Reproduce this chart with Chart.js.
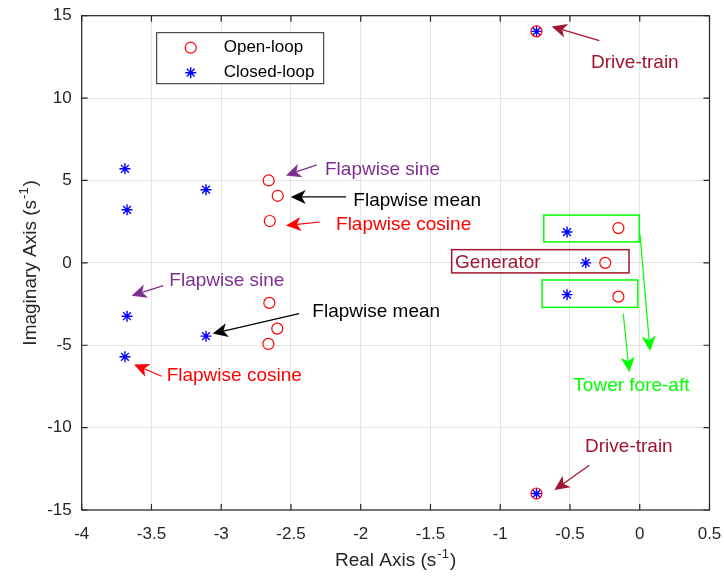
<!DOCTYPE html>
<html>
<head>
<meta charset="utf-8">
<script src="https://cdn.jsdelivr.net/npm/chart.js@4.4.1/dist/chart.umd.min.js"></script>
<style>
  html, body { margin: 0; padding: 0; background: #fff; }
  #wrap { width: 724px; height: 579px; }
</style>
</head>
<body>
<div id="wrap"><canvas id="poleChart"></canvas></div>
<script>
// pole locations
const seriesNames = ["Open-loop", "Closed-loop"];
const openRe   = [-0.74, -0.74, -2.66, -2.595, -2.652, -2.655, -2.598, -2.662, -0.153, -0.247, -0.153];
const openIm   = [14.05, -14.0, 5.0, 4.07, 2.54, -2.43, -3.99, -4.92, 2.11, 0.0, -2.05];
const closedRe = [-0.74, -0.74, -3.69, -3.675, -3.109, -3.675, -3.69, -3.109, -0.521, -0.387, -0.521];
const closedIm = [14.05, -14.0, 5.71, 3.22, 4.44, -3.24, -5.70, -4.45, 1.87, 0.0, -1.93];
const xTicks = [-4, -3.5, -3, -2.5, -2, -1.5, -1, -0.5, 0, 0.5];
const yTicks = [-15, -10, -5, 0, 5, 10, 15];

const DR = "#A2142F", PU = "#7E2F8E", GR = "#00ff00";
const FONT = "'Liberation Sans', Arial, sans-serif";

// annotations in data units
const arrows = [
  { from: [-0.29, 13.49], to: [-0.631, 14.34], color: DR },
  { from: [-0.361, -12.29], to: [-0.612, -13.79], color: DR },
  { from: [-2.315, 5.95], to: [-2.536, 5.30], color: PU },
  { from: [-2.105, 4.0], to: [-2.502, 4.0], color: "#000" },
  { from: [-2.292, 2.48], to: [-2.536, 2.27], color: "#ff0000" },
  { from: [-3.415, -1.38], to: [-3.642, -1.99], color: PU },
  { from: [-2.442, -3.08], to: [-3.061, -4.29], color: "#000" },
  { from: [-3.427, -6.88], to: [-3.625, -6.17], color: "#ff0000" },
  { from: [0.002, 1.71], to: [0.074, -5.36], color: GR },
  { from: [-0.118, -3.10], to: [-0.075, -6.64], color: GR }
];
const labels = [
  { text: "Drive-train", at: [-0.349, 12.13], color: DR },
  { text: "Drive-train", at: [-0.392, -11.18], color: DR },
  { text: "Flapwise sine", at: [-2.256, 5.65], color: PU },
  { text: "Flapwise mean", at: [-2.053, 3.77], color: "#000" },
  { text: "Flapwise cosine", at: [-2.177, 2.32], color: "#ff0000" },
  { text: "Flapwise sine", at: [-3.372, -1.06], color: PU },
  { text: "Flapwise mean", at: [-2.347, -2.94], color: "#000" },
  { text: "Flapwise cosine", at: [-3.391, -6.88], color: "#ff0000" },
  { text: "Generator", at: [-1.324, 0.01], color: DR },
  { text: "Tower fore-aft", at: [-0.476, -7.44], color: GR }
];
const boxes = [
  { x: [-1.348, -0.077], y: [0.8, -0.61], color: DR },
  { x: [-0.688, -0.003], y: [2.90, 1.27], color: GR },
  { x: [-0.70, -0.014], y: [-1.04, -2.70], color: GR }
];

function drawArrow(ctx, x1, y1, x2, y2, color) {
  const a = Math.atan2(y2 - y1, x2 - x1);
  const L = 15, W = 7, N = 4;
  ctx.strokeStyle = color; ctx.fillStyle = color; ctx.lineWidth = 1.2;
  ctx.beginPath();
  ctx.moveTo(x1, y1);
  ctx.lineTo(x2 - (L - N) * Math.cos(a), y2 - (L - N) * Math.sin(a));
  ctx.stroke();
  ctx.save();
  ctx.translate(x2, y2); ctx.rotate(a);
  ctx.beginPath();
  ctx.moveTo(0, 0); ctx.lineTo(-L, -W); ctx.lineTo(-L + N, 0); ctx.lineTo(-L, W);
  ctx.closePath(); ctx.fill();
  ctx.restore();
}

// axis title with a superscript "-1", centred on (0,0) of the current transform
function drawUnitTitle(ctx, main, sup) {
  ctx.font = "19px " + FONT;
  const w1 = ctx.measureText(main).width;
  const w3 = ctx.measureText(")").width;
  ctx.font = "13px " + FONT;
  const w2 = ctx.measureText(sup).width;
  let x = -(w1 + w2 + w3 + 2) / 2;
  ctx.textAlign = "left"; ctx.textBaseline = "alphabetic";
  ctx.fillStyle = "#262626";
  ctx.font = "19px " + FONT;
  ctx.fillText(main, x, 7);
  ctx.font = "13px " + FONT;
  ctx.fillText(sup, x + w1 + 1, -1);
  ctx.font = "19px " + FONT;
  ctx.fillText(")", x + w1 + w2 + 2, 7);
}

const overlay = {
  id: "overlay",
  afterDraw(chart) {
    const ctx = chart.ctx, xs = chart.scales.x, ys = chart.scales.y;
    const a = chart.chartArea;
    ctx.save();
    // axes box with inward ticks
    ctx.strokeStyle = "#262626"; ctx.lineWidth = 1.2;
    ctx.strokeRect(a.left, a.top, a.right - a.left, a.bottom - a.top);
    ctx.beginPath();
    xTicks.forEach(v => {
      const px = xs.getPixelForValue(v);
      ctx.moveTo(px, a.bottom); ctx.lineTo(px, a.bottom - 6);
      ctx.moveTo(px, a.top); ctx.lineTo(px, a.top + 6);
    });
    yTicks.forEach(v => {
      const py = ys.getPixelForValue(v);
      ctx.moveTo(a.left, py); ctx.lineTo(a.left + 6, py);
      ctx.moveTo(a.right, py); ctx.lineTo(a.right - 6, py);
    });
    ctx.stroke();

    // axis titles
    ctx.save();
    ctx.translate((a.left + a.right) / 2, 559);
    drawUnitTitle(ctx, "Real Axis (s", "-1");
    ctx.restore();
    ctx.save();
    ctx.translate(29, (a.top + a.bottom) / 2);
    ctx.rotate(-Math.PI / 2);
    drawUnitTitle(ctx, "Imaginary Axis (s", "-1");
    ctx.restore();

    // annotations
    boxes.forEach(b => {
      const x0 = xs.getPixelForValue(b.x[0]), x1 = xs.getPixelForValue(b.x[1]);
      const y0 = ys.getPixelForValue(b.y[0]), y1 = ys.getPixelForValue(b.y[1]);
      ctx.strokeStyle = b.color; ctx.lineWidth = 1.5;
      ctx.strokeRect(x0, y0, x1 - x0, y1 - y0);
    });
    arrows.forEach(r => drawArrow(ctx,
      xs.getPixelForValue(r.from[0]), ys.getPixelForValue(r.from[1]),
      xs.getPixelForValue(r.to[0]), ys.getPixelForValue(r.to[1]), r.color));
    ctx.font = "19px " + FONT;
    ctx.textAlign = "left"; ctx.textBaseline = "middle";
    labels.forEach(t => {
      ctx.fillStyle = t.color;
      ctx.fillText(t.text, xs.getPixelForValue(t.at[0]), ys.getPixelForValue(t.at[1]));
    });

    // legend
    const lx = a.left + 75, ly = a.top + 17, lw = 167, lh = 51;
    ctx.fillStyle = "#fff"; ctx.fillRect(lx, ly, lw, lh);
    ctx.strokeStyle = "#262626"; ctx.lineWidth = 1;
    ctx.strokeRect(lx, ly, lw, lh);
    ctx.font = "17px " + FONT;
    chart.data.datasets.forEach((ds, i) => {
      const cy = ly + 15 + i * 25;
      ctx.strokeStyle = ds.borderColor;
      ctx.fillStyle = ds.backgroundColor;
      ctx.lineWidth = ds.borderWidth;
      Chart.helpers.drawPoint(ctx, {
        pointStyle: ds.pointStyle, radius: ds.pointRadius, rotation: 0,
        borderWidth: ds.borderWidth
      }, lx + 34, cy);
      ctx.fillStyle = "#000";
      ctx.fillText(ds.label, lx + 67, cy);
    });
    ctx.restore();
  }
};

const ctx = document.getElementById("poleChart").getContext("2d");
new Chart(ctx, {
  type: "scatter",
  data: {
    datasets: [
      {
        label: seriesNames[0],
        data: openRe.map((x, i) => ({ x: x, y: openIm[i] })),
        pointStyle: "circle", pointRadius: 5.5, pointHoverRadius: 5.5,
        borderColor: "#ff0000", backgroundColor: "rgba(0,0,0,0)", borderWidth: 1.2
      },
      {
        label: seriesNames[1],
        data: closedRe.map((x, i) => ({ x: x, y: closedIm[i] })),
        pointStyle: "star", pointRadius: 5.5, pointHoverRadius: 5.5,
        borderColor: "#0000ff", backgroundColor: "#0000ff", borderWidth: 1.4
      }
    ]
  },
  options: {
    responsive: true,
    maintainAspectRatio: false,
    animation: false,
    layout: { padding: { left: 0, right: 14.5, top: 15.7, bottom: 0 } },
    plugins: { legend: { display: false }, tooltip: { enabled: false } },
    scales: {
      x: {
        type: "linear", min: -4, max: 0.5,
        afterBuildTicks: s => { s.ticks = xTicks.map(v => ({ value: v })); },
        afterFit: s => { s.height = 69; s.paddingLeft = 0; s.paddingRight = 0; },
        grid: { color: "#e3e3e3", drawTicks: false },
        border: { display: false },
        ticks: { color: "#262626", padding: 14, font: { family: FONT, size: 17 }, callback: v => String(v) },
        title: { display: false }
      },
      y: {
        type: "linear", min: -15, max: 15,
        afterBuildTicks: s => { s.ticks = yTicks.map(v => ({ value: v })); },
        afterFit: s => { s.width = 81.7; s.paddingTop = 0; s.paddingBottom = 0; },
        grid: { color: "#e3e3e3", drawTicks: false },
        border: { display: false },
        ticks: { color: "#262626", padding: 10, font: { family: FONT, size: 17 }, callback: v => String(v) },
        title: { display: false }
      }
    }
  },
  plugins: [overlay]
});
</script>
</body>
</html>
